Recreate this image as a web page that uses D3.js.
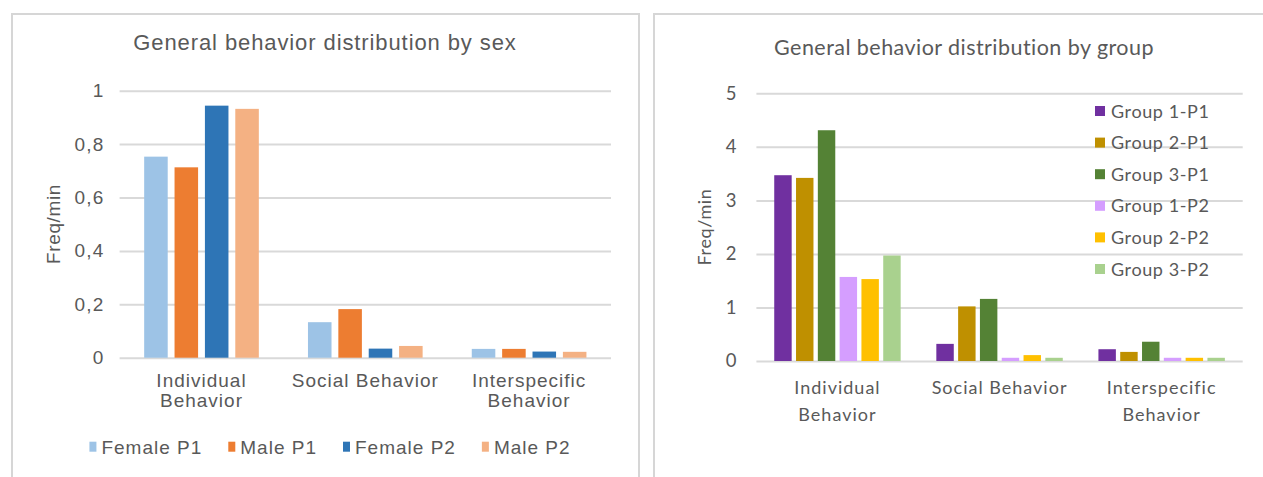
<!DOCTYPE html>
<html>
<head>
<meta charset="utf-8">
<script src="https://cdn.jsdelivr.net/npm/d3@7"></script>
<style>
  html, body { margin: 0; padding: 0; background: #ffffff; }
  svg { display: block; }
</style>
</head>
<body>
<svg id="chart" width="1263" height="477"></svg>
<script>
// ---- data: chart 1, behaviour by sex ----
const sexCategories = [["Individual", "Behavior"], ["Social Behavior"], ["Interspecific", "Behavior"]];
const sexSeries = ["Female P1", "Male P1", "Female P2", "Male P2"];
const femaleP1 = [0.753, 0.133, 0.033];
const maleP1 = [0.713, 0.182, 0.033];
const femaleP2 = [0.944, 0.034, 0.023];
const maleP2 = [0.932, 0.044, 0.022];
const sexTicks = [0, 0.2, 0.4, 0.6, 0.8, 1];

// ---- data: chart 2, behaviour by group ----
const groupCategories = [["Individual", "Behavior"], ["Social Behavior"], ["Interspecific", "Behavior"]];
const groupSeries = ["Group 1-P1", "Group 2-P1", "Group 3-P1", "Group 1-P2", "Group 2-P2", "Group 3-P2"];
const group1P1 = [3.47, 0.32, 0.22];
const group2P1 = [3.42, 1.02, 0.17];
const group3P1 = [4.31, 1.16, 0.36];
const group1P2 = [1.57, 0.06, 0.06];
const group2P2 = [1.53, 0.11, 0.06];
const group3P2 = [1.97, 0.06, 0.06];
const groupTicks = [0, 1, 2, 3, 4, 5];

const svg = d3.select("#chart");
const TEXT = "#595959";
const GRID = "#d9d9d9";

function drawPanel(cfg) {
  const g = svg.append("g");

  // panel frame (open at the bottom edge of the image)
  g.append("path")
    .attr("d", `M${cfg.frame.x0},${cfg.frame.yBottom} V${cfg.frame.y0} H${cfg.frame.x1} V${cfg.frame.yBottom}`)
    .attr("fill", "none")
    .attr("stroke", "#d6d6d6")
    .attr("stroke-width", 2);

  const x0 = d3.scaleBand()
    .domain(d3.range(cfg.categories.length))
    .range([cfg.plot.left, cfg.plot.right])
    .paddingInner(cfg.groupPad)
    .paddingOuter(cfg.groupPad / 2);
  const x1 = d3.scaleBand()
    .domain(cfg.series)
    .range([0, x0.bandwidth()])
    .paddingInner(cfg.barPad);
  const y = d3.scaleLinear().domain(cfg.yDomain).range([cfg.plot.bottom, cfg.plot.top]);
  const color = d3.scaleOrdinal().domain(cfg.series).range(cfg.colors);

  // value axis with gridlines
  const yAxis = g.append("g")
    .attr("transform", `translate(${cfg.plot.left},0)`)
    .call(d3.axisLeft(y)
      .tickValues(cfg.ticks)
      .tickSize(-(cfg.plot.right - cfg.plot.left))
      .tickPadding(cfg.tickPad)
      .tickFormat(cfg.tickFormat));
  yAxis.select(".domain").remove();
  yAxis.selectAll(".tick line").attr("stroke", GRID).attr("stroke-width", 2);
  yAxis.selectAll(".tick text")
    .attr("fill", TEXT)
    .style("font-family", cfg.font)
    .style("font-size", cfg.tickSize + "px")
    .style("letter-spacing", cfg.tickSpacing + "px");

  // bars
  const rows = cfg.categories.map((c, i) => ({ i, values: cfg.series.map((s, k) => ({ s, v: cfg.values[k][i] })) }));
  g.append("g").selectAll("g")
    .data(rows)
    .join("g")
    .attr("transform", d => `translate(${x0(d.i)},0)`)
    .selectAll("rect")
    .data(d => d.values)
    .join("rect")
    .attr("x", d => x1(d.s))
    .attr("y", d => y(d.v))
    .attr("width", x1.bandwidth())
    .attr("height", d => y(0) - y(d.v))
    .attr("fill", d => color(d.s));

  // category axis
  const xAxis = g.append("g")
    .attr("transform", `translate(0,${cfg.plot.bottom})`)
    .call(d3.axisBottom(x0).tickSize(0).tickPadding(0).tickFormat(() => ""));
  xAxis.select(".domain").remove();
  xAxis.selectAll(".tick text").each(function (d) {
    const t = d3.select(this)
      .attr("fill", TEXT)
      .attr("y", 0)
      .attr("dy", null)
      .style("font-family", cfg.font)
      .style("font-size", cfg.catSize + "px")
      .style("letter-spacing", cfg.catSpacing + "px");
    cfg.categories[d].forEach((line, j) => {
      t.append("tspan").attr("x", 0).attr("y", cfg.catY[j] - cfg.plot.bottom).text(line);
    });
  });

  // title
  g.append("text")
    .attr("x", cfg.title.x)
    .attr("y", cfg.title.y)
    .attr("text-anchor", "middle")
    .attr("fill", TEXT)
    .style("font-family", cfg.font)
    .style("font-size", cfg.title.size + "px")
    .style("letter-spacing", cfg.title.spacing + "px")
    .text(cfg.title.text);

  // value axis title
  g.append("text")
    .attr("transform", `translate(${cfg.yTitle.x},${cfg.yTitle.y}) rotate(-90)`)
    .attr("text-anchor", "middle")
    .attr("fill", TEXT)
    .style("font-family", cfg.font)
    .style("font-size", cfg.yTitle.size + "px")
    .style("letter-spacing", cfg.yTitle.spacing + "px")
    .text("Freq/min");

  return { g, color };
}

// ---------- chart 1 ----------
const sexPanel = drawPanel({
  frame: { x0: 12, x1: 639, y0: 14, yBottom: 480 },
  plot: { left: 119.6, right: 611, top: 90.7, bottom: 357.7 },
  categories: sexCategories,
  series: sexSeries,
  values: [femaleP1, maleP1, femaleP2, maleP2],
  colors: ["#9dc3e6", "#ed7d31", "#2e75b6", "#f4b183"],
  yDomain: [0, 1],
  ticks: sexTicks,
  tickFormat: d => String(d).replace(".", ","),
  groupPad: 0.30,
  barPad: 0.225,
  font: "'Liberation Sans', Arial, sans-serif",
  tickSize: 19, tickSpacing: 1.2, tickPad: 15,
  catSize: 19, catSpacing: 1, catY: [387, 407],
  title: { text: "General behavior distribution by sex", x: 325, y: 50, size: 22, spacing: 0.9 },
  yTitle: { x: 60, y: 224, size: 19, spacing: 0.6 }
});

// horizontal legend under chart 1
(function () {
  const lg = sexPanel.g.append("g");
  const items = lg.selectAll("g").data(sexSeries).join("g");
  items.append("rect").attr("width", 7).attr("height", 10).attr("y", -5).attr("fill", d => sexPanel.color(d));
  items.append("text")
    .attr("x", 12).attr("y", 7)
    .attr("fill", TEXT)
    .style("font-family", "'Liberation Sans', Arial, sans-serif")
    .style("font-size", "19px")
    .style("letter-spacing", "1px")
    .text(d => d);
  let cx = 0;
  items.each(function () {
    const w = this.querySelector("text").getComputedTextLength() + 12;
    d3.select(this).attr("transform", `translate(${cx},0)`);
    cx += w + 26;
  });
  const total = cx - 26;
  lg.attr("transform", `translate(${325 - total / 2 + 5},446.7)`);
})();

// ---------- chart 2 ----------
const groupPanel = drawPanel({
  frame: { x0: 654, x1: 1275, y0: 14, yBottom: 480 },
  plot: { left: 756.4, right: 1242.7, top: 93.3, bottom: 361 },
  categories: groupCategories,
  series: groupSeries,
  values: [group1P1, group2P1, group3P1, group1P2, group2P2, group3P2],
  colors: ["#7030a0", "#bf9000", "#548235", "#d59eff", "#ffc000", "#a9d18e"],
  yDomain: [0, 5],
  ticks: groupTicks,
  tickFormat: d3.format("d"),
  groupPad: 0.22,
  barPad: 0.2,
  font: "Lato, 'Open Sans', sans-serif",
  tickSize: 18.5, tickSpacing: 0, tickPad: 20,
  catSize: 18, catSpacing: 1, catY: [394, 421],
  title: { text: "General behavior distribution by group", x: 964, y: 55, size: 21.5, spacing: 0.45 },
  yTitle: { x: 711, y: 227, size: 18, spacing: 0.6 }
});

// vertical legend inside chart 2
(function () {
  const lg = groupPanel.g.append("g").attr("transform", "translate(1095,111)");
  const items = lg.selectAll("g").data(groupSeries).join("g")
    .attr("transform", (d, i) => `translate(0,${i * 31.6})`);
  items.append("rect").attr("width", 10).attr("height", 10).attr("y", -5).attr("fill", d => groupPanel.color(d));
  items.append("text")
    .attr("x", 16).attr("y", 6.5)
    .attr("fill", TEXT)
    .style("font-family", "Lato, 'Open Sans', sans-serif")
    .style("font-size", "18px")
    .style("letter-spacing", "0.6px")
    .text(d => d);
})();
</script>
</body>
</html>
